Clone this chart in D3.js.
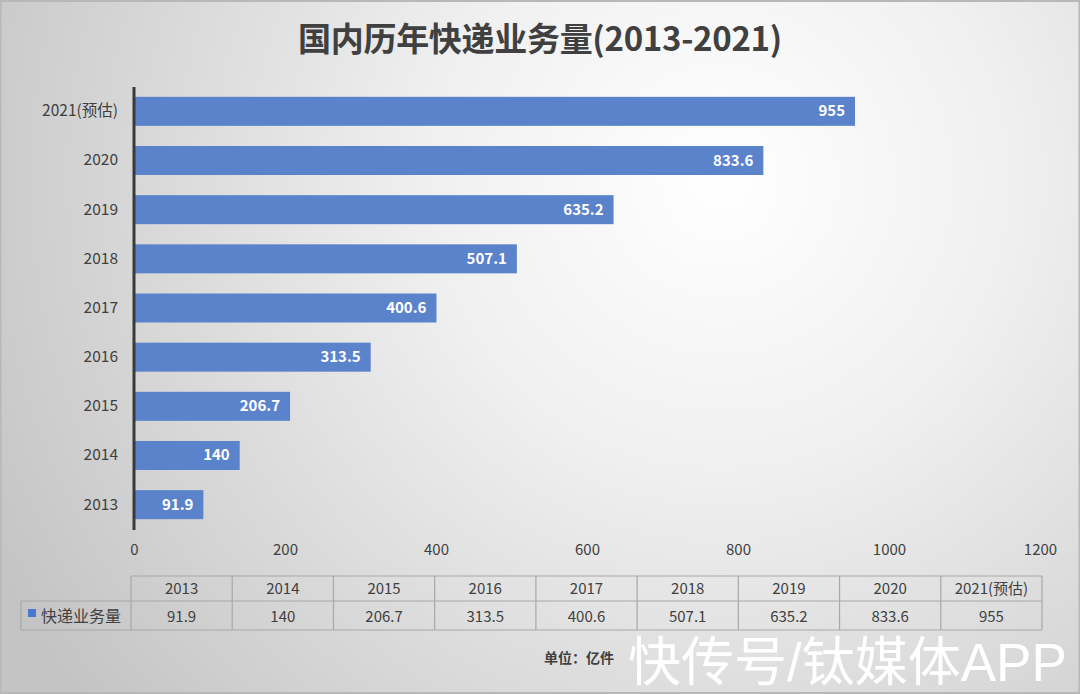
<!DOCTYPE html>
<html><head><meta charset="utf-8">
<script src="https://cdn.jsdelivr.net/npm/d3@7"></script>
<style>html,body{margin:0;padding:0;background:#fff}svg{display:block}</style>
</head><body>
<svg id="c" width="1080" height="694"></svg>
<script>
const categories = ["2013","2014","2015","2016","2017","2018","2019","2020","2021(预估)"];
const values = [91.9,140,206.7,313.5,400.6,507.1,635.2,833.6,955];
const valueLabels = ["91.9","140","206.7","313.5","400.6","507.1","635.2","833.6","955"];
const xTicks = [0,200,400,600,800,1000,1200];
const seriesName = "快递业务量";
const titleText = "国内历年快递业务量(2013-2021)";
const unitText = "单位：亿件";
const watermark = "快传号/钛媒体APP";

const W = 1080, H = 694;
const svg = d3.select("#c");
const font = "'Noto Sans CJK SC','Noto Sans',sans-serif";
const defs = svg.append("defs");
const g = defs.append("radialGradient").attr("id","bg").attr("gradientUnits","userSpaceOnUse")
  .attr("cx",720).attr("cy",180).attr("r",820);
g.append("stop").attr("offset","0").attr("stop-color","#ffffff");
g.append("stop").attr("offset","0.35").attr("stop-color","#f0f0f0");
g.append("stop").attr("offset","1").attr("stop-color","#c4c4c4");
svg.append("rect").attr("width",W).attr("height",H).attr("fill","url(#bg)");
svg.append("rect").attr("x",0.5).attr("y",1).attr("width",W-1).attr("height",H-2)
  .attr("fill","none").attr("stroke","#b8b8b8").attr("stroke-width",2);

// title
svg.append("text").attr("x",540).attr("y",51).attr("text-anchor","middle")
  .attr("font-family",font).attr("font-weight","bold").attr("font-size",33)
  .attr("fill","#404040").attr("letter-spacing","-0.3").text(titleText);

const x = d3.scaleLinear().domain([0,1200]).range([134,1040]);
const y = d3.scaleBand().domain(categories.slice().reverse()).range([87,529]).paddingInner(0.41).paddingOuter(0.2);

// bars
const bars = svg.append("g");
bars.selectAll("rect").data(values).join("rect")
  .attr("x",x(0)).attr("y",(d,i)=>y(categories[i]))
  .attr("width",d=>x(d)-x(0)).attr("height",y.bandwidth())
  .attr("fill","#5b83cb");
bars.selectAll("text").data(values).join("text")
  .attr("x",d=>x(d)-10).attr("y",(d,i)=>y(categories[i])+y.bandwidth()/2+5)
  .attr("text-anchor","end").attr("font-family",font).attr("font-weight","bold")
  .attr("font-size",15).attr("fill","#ffffff").text((d,i)=>valueLabels[i]);

// y axis
const yAxis = svg.append("g").attr("transform",`translate(${x(0)},0)`)
  .call(d3.axisLeft(y).tickSize(0).tickPadding(16));
yAxis.select(".domain").remove();
yAxis.selectAll("text").attr("font-family",font).attr("font-size",15.5).attr("fill","#404040");
svg.append("line").attr("x1",x(0)).attr("x2",x(0)).attr("y1",87).attr("y2",530)
  .attr("stroke","#3a3a3a").attr("stroke-width",3);

// x axis
const xAxis = svg.append("g").attr("transform","translate(0,538)")
  .call(d3.axisBottom(x).tickValues(xTicks).tickFormat(d3.format("d")).tickSize(0).tickPadding(6));
xAxis.select(".domain").remove();
xAxis.selectAll("text").attr("font-family",font).attr("font-size",15).attr("fill","#404040");

// data table
const tx0 = 131, tx1 = 1042, legX = 21;
const colW = (tx1 - tx0)/categories.length;
const r0 = 576, r1 = 601, r2 = 630;
const tbl = svg.append("g").attr("stroke","#a8a8a8").attr("stroke-width",1.2).attr("fill","none");
tbl.append("line").attr("x1",tx0).attr("x2",tx1).attr("y1",r0).attr("y2",r0);
tbl.append("line").attr("x1",legX).attr("x2",tx1).attr("y1",r1).attr("y2",r1);
tbl.append("line").attr("x1",legX).attr("x2",tx1).attr("y1",r2).attr("y2",r2);
tbl.append("line").attr("x1",legX).attr("x2",legX).attr("y1",r1).attr("y2",r2);
d3.range(categories.length+1).forEach(i=>{
  tbl.append("line").attr("x1",tx0+i*colW).attr("x2",tx0+i*colW).attr("y1",r0).attr("y2",r2);
});
const tt = svg.append("g").attr("font-family",font).attr("font-size",15).attr("fill","#404040").attr("text-anchor","middle");
tt.selectAll("text.h").data(categories).join("text").attr("class","h")
  .attr("x",(d,i)=>tx0+colW*(i+0.5)).attr("y",r0+18).text(d=>d);
tt.selectAll("text.v").data(valueLabels).join("text").attr("class","v")
  .attr("x",(d,i)=>tx0+colW*(i+0.5)).attr("y",r1+21).text(d=>d);
svg.append("rect").attr("x",28).attr("y",609).attr("width",8).attr("height",8).attr("fill","#4a78d0");
svg.append("text").attr("x",41).attr("y",r1+21).attr("font-family",font).attr("font-size",16)
  .attr("fill","#404040").text(seriesName);

// unit
svg.append("text").attr("x",544).attr("y",663).attr("font-family",font).attr("font-weight","bold")
  .attr("font-size",14).attr("fill","#404040").text(unitText);

// watermark
svg.append("text").attr("x",628).attr("y",681).attr("font-family","'Liberation Sans','Noto Sans CJK SC',sans-serif")
  .attr("font-size",53).attr("fill","#ffffff").text(watermark);
</script>
</body></html>
